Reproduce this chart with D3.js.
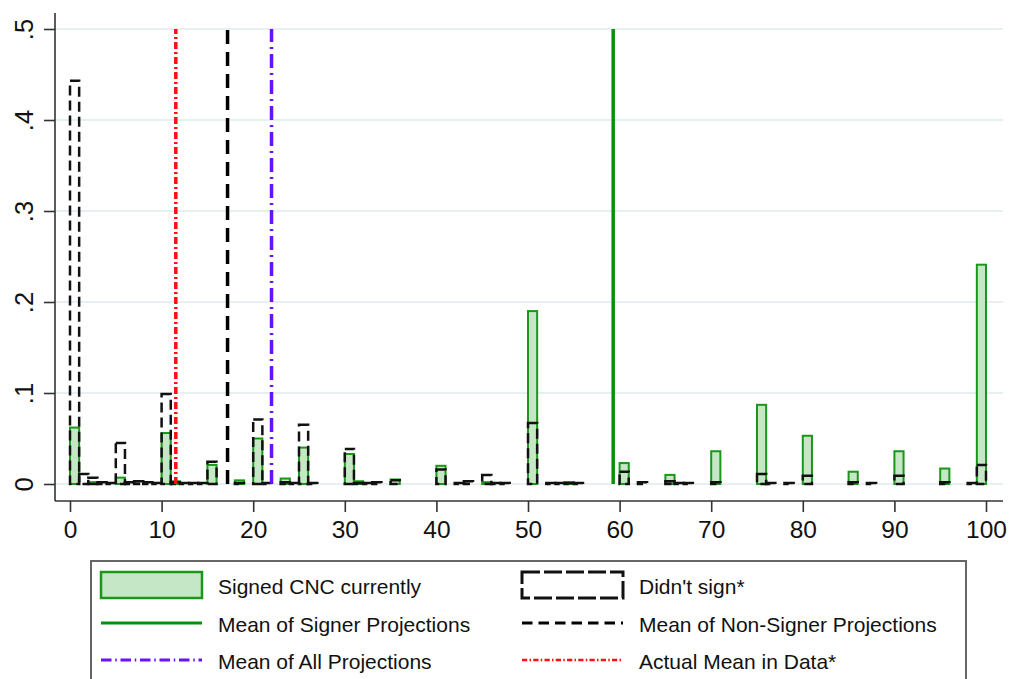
<!DOCTYPE html>
<html>
<head>
<meta charset="utf-8">
<script src="https://cdn.jsdelivr.net/npm/d3@7"></script>
<style>
  html, body { margin: 0; padding: 0; background: #fff; }
  svg { display: block; font-family: "Liberation Sans", Arial, Helvetica, sans-serif; }
</style>
</head>
<body>
<svg id="chart" width="1010" height="679"></svg>
<script>
// Histogram bins (width 1, labelled by bin start) and their densities
const signedBins    = [0, 2, 5, 10, 11, 15, 18, 20, 23, 25, 30, 31, 35, 40, 45, 50, 54, 60, 65, 70, 75, 80, 85, 90, 95, 99];
const signedDensity = [0.062, 0.002, 0.007, 0.056, 0.003, 0.021, 0.004, 0.050, 0.006, 0.040, 0.033, 0.003, 0.005, 0.020, 0.002, 0.190, 0.002, 0.023, 0.010, 0.036, 0.087, 0.053, 0.0135, 0.036, 0.017, 0.241];

const nonSignBins    = [0, 1, 2, 3, 4, 5, 6, 7, 8, 9, 10, 11, 12, 13, 14, 15, 18, 20, 21, 23, 24, 25, 26, 30, 31, 32, 33, 35, 40, 42, 43, 45, 46, 47, 50, 52, 53, 54, 55, 60, 62, 65, 66, 67, 70, 75, 76, 78, 80, 85, 87, 90, 95, 98, 99];
const nonSignDensity = [0.443, 0.011, 0.007, 0.002, 0.001, 0.045, 0.002, 0.003, 0.002, 0.001, 0.099, 0.002, 0.001, 0.001, 0.001, 0.0245, 0.001, 0.071, 0.001, 0.002, 0.001, 0.065, 0.001, 0.0385, 0.001, 0.001, 0.002, 0.004, 0.016, 0.001, 0.003, 0.010, 0.001, 0.001, 0.067, 0.001, 0.001, 0.001, 0.001, 0.0135, 0.002, 0.003, 0.001, 0.001, 0.002, 0.011, 0.001, 0.001, 0.009, 0.002, 0.001, 0.009, 0.002, 0.001, 0.021];

// Reference means
const meanNames  = ["Mean of Signer Projections", "Mean of Non-Signer Projections", "Mean of All Projections", "Actual Mean in Data*"];
const meanValues = [59.3, 17.2, 22.0, 11.55];

const xTicks = [0, 10, 20, 30, 40, 50, 60, 70, 80, 90, 100];
const yTicks = [0, 0.1, 0.2, 0.3, 0.4, 0.5];
const yTickLabels = ["0", ".1", ".2", ".3", ".4", ".5"];

const legendLabels = ["Signed CNC currently", "Didn't sign*", "Mean of Signer Projections", "Mean of Non-Signer Projections", "Mean of All Projections", "Actual Mean in Data*"];

// ---- layout ----
const svg = d3.select("#chart");
const plot = { left: 55, right: 1003, top: 13, bottom: 501 };
const x = d3.scaleLinear().domain([0, 100]).range([70, 986]);
const y = d3.scaleLinear().domain([0, 0.5]).range([484, 29]);

const green = "#1a961a", greenFill = "#c5e7c5";
const meanStyles = [
  { color: "#0a8f0a", dash: null, width: 3.5 },
  { color: "#000000", dash: "14,8", width: 3.5 },
  { color: "#6a11ff", dash: "14,5,2,5", width: 3.5 },
  { color: "#ff1010", dash: "7,3,2,3", width: 3.5 }
];

// gridlines
svg.append("g").selectAll("line").data(yTicks).join("line")
  .attr("x1", plot.left).attr("x2", plot.right)
  .attr("y1", d => y(d)).attr("y2", d => y(d))
  .attr("stroke", "#e6eff1").attr("stroke-width", 2);

// signers' bars
const signed = signedBins.map((b, i) => ({ b, v: signedDensity[i] }));
svg.append("g").selectAll("rect").data(signed).join("rect")
  .attr("x", d => x(d.b)).attr("width", d => x(d.b + 1) - x(d.b))
  .attr("y", d => y(d.v)).attr("height", d => y(0) - y(d.v))
  .attr("fill", greenFill).attr("stroke", green).attr("stroke-width", 2);

// non-signers' bars, dashed outlines only
const nonSign = nonSignBins.map((b, i) => ({ b, v: nonSignDensity[i] }));
svg.append("g").selectAll("rect").data(nonSign).join("rect")
  .attr("x", d => x(d.b)).attr("width", d => x(d.b + 1) - x(d.b))
  .attr("y", d => y(d.v)).attr("height", d => Math.max(0.5, y(0) - y(d.v)))
  .attr("fill", "none").attr("stroke", "#111").attr("stroke-width", 2.5)
  .attr("stroke-dasharray", "10,5");

// mean lines
svg.append("g").selectAll("line").data(meanValues).join("line")
  .attr("x1", d => x(d)).attr("x2", d => x(d))
  .attr("y1", y(0)).attr("y2", y(0.5))
  .attr("stroke", (d, i) => meanStyles[i].color)
  .attr("stroke-width", (d, i) => meanStyles[i].width)
  .attr("stroke-dasharray", (d, i) => meanStyles[i].dash);

// x axis
const gx = svg.append("g").attr("transform", `translate(0,${plot.bottom})`)
  .call(d3.axisBottom(x).tickValues(xTicks).tickSize(11).tickSizeOuter(0).tickPadding(9));
gx.select(".domain").attr("d", `M${plot.left},0H${plot.right}`);
gx.selectAll("path, line").attr("stroke", "#333").attr("stroke-width", 1.6);
gx.selectAll("text").attr("font-size", 24.5).attr("fill", "#111")
  .attr("font-family", "Liberation Sans, Arial, sans-serif");

// y axis
const gy = svg.append("g").attr("transform", `translate(${plot.left},0)`)
  .call(d3.axisLeft(y).tickValues(yTicks).tickSize(11).tickSizeOuter(0)
    .tickFormat((d, i) => yTickLabels[i]));
gy.select(".domain").attr("d", `M0,${plot.top}V${plot.bottom}`);
gy.selectAll("path, line").attr("stroke", "#333").attr("stroke-width", 1.6);
gy.selectAll("text")
  .attr("font-size", 25.5).attr("fill", "#111")
  .attr("font-family", "Liberation Sans, Arial, sans-serif")
  .attr("text-anchor", "middle").attr("dy", null)
  .attr("x", null)
  .attr("transform", "translate(-22,0) rotate(-90)")
  .attr("y", 0);

// legend
const leg = svg.append("g");
leg.append("rect").attr("x", 91).attr("y", 561).attr("width", 875).attr("height", 160)
  .attr("fill", "#fff").attr("stroke", "#666").attr("stroke-width", 2);

const cols = [101, 522];
const rows = [585, 623, 660];
const swW = 101;
const items = [
  { type: "box", fill: greenFill, stroke: green, dash: null, sw: 2.5 },
  { type: "box", fill: "#fff", stroke: "#111", dash: "18,4", sw: 3 },
  { type: "line", ...meanStyles[0] },
  { type: "line", ...meanStyles[1] },
  { type: "line", ...meanStyles[2] },
  { type: "line", ...meanStyles[3] }
];
const legStyleWidths = [3, 3, 3, 2.5];
items.forEach((it, i) => {
  const cx = cols[i % 2], cy = rows[Math.floor(i / 2)];
  if (it.type === "box") {
    leg.append("rect").attr("x", cx).attr("y", cy - 13).attr("width", swW).attr("height", 26)
      .attr("fill", it.fill).attr("stroke", it.stroke).attr("stroke-width", it.sw)
      .attr("stroke-dasharray", it.dash);
  } else {
    const dash = it.dash === null ? null : it.dash.split(",").map(v => +v * 0.75).join(",");
    leg.append("line").attr("x1", cx).attr("x2", cx + swW).attr("y1", cy).attr("y2", cy)
      .attr("stroke", it.color).attr("stroke-width", legStyleWidths[i - 2])
      .attr("stroke-dasharray", dash);
  }
  leg.append("text").attr("x", cx + 117).attr("y", cy + 1).attr("dy", "0.36em")
    .attr("font-size", 21).attr("fill", "#111").text(legendLabels[i]);
});
</script>
</body>
</html>
